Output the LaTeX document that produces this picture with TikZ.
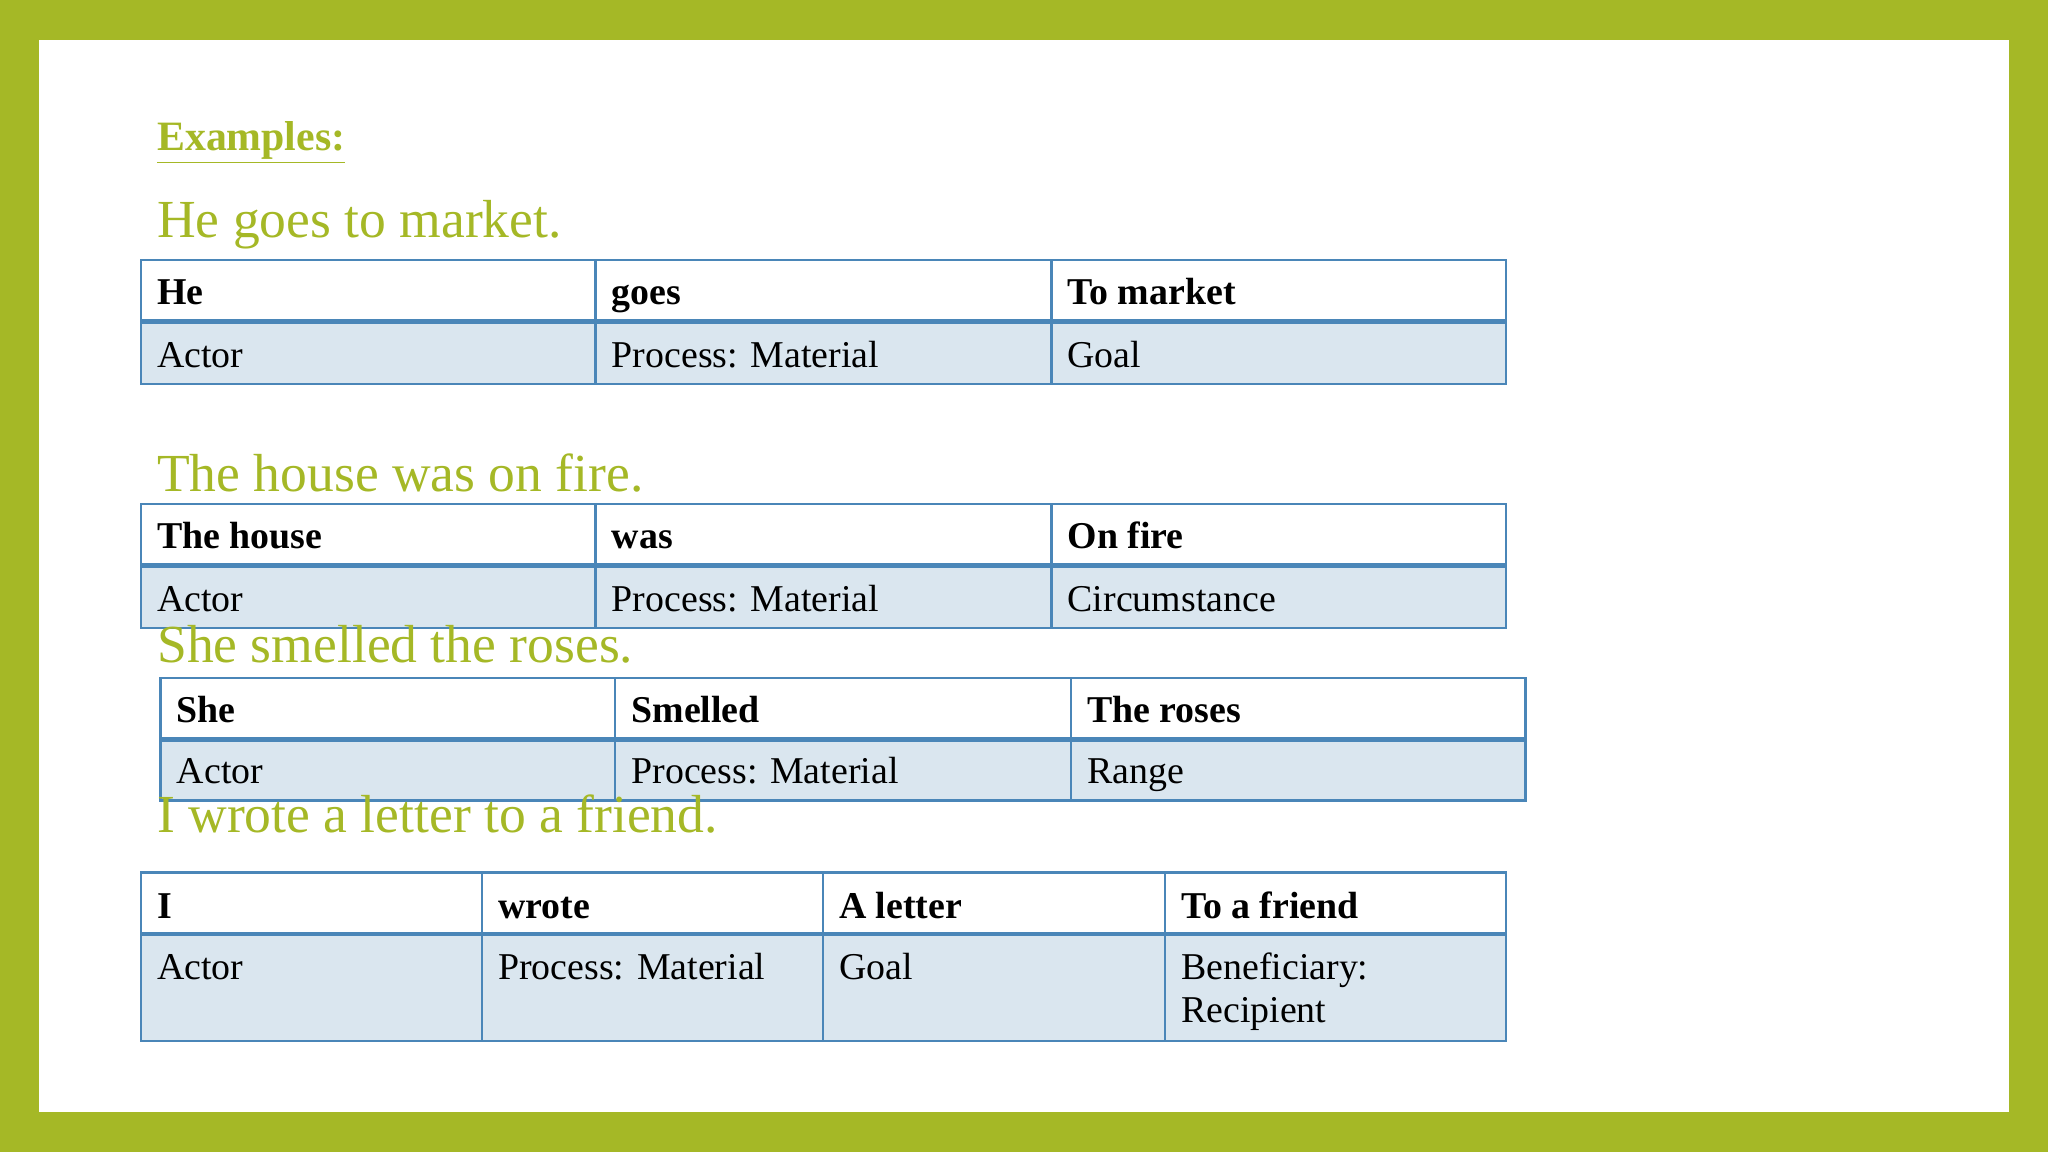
\documentclass[tikz,border=0pt]{standalone}
\usepackage{fontspec}
\setmainfont{Liberation Serif}
\definecolor{grn}{HTML}{A5B826}
\definecolor{tline}{HTML}{4A86B8}
\definecolor{tfill}{HTML}{DAE6EF}
\begin{document}
\begin{tikzpicture}[x=0.5pt,y=-0.5pt,
  title/.style={anchor=base west,inner sep=0,text=grn,font=\fontsize{20.5}{24}\selectfont},
  cell/.style={anchor=base west,inner sep=0,font=\fontsize{14.5}{17}\selectfont},
  head/.style={cell,font=\fontsize{14.5}{17}\selectfont\bfseries},
  tl/.style={draw=tline,line width=0.9pt}]
\useasboundingbox (0,0) rectangle (1568,882);
\fill[grn] (0,0) rectangle (1568,882);
\fill[white] (30,31) rectangle (1538,851);
% table macro
\newcommand\tblrow[7]{% x0 x1 ytop ymid ybot list-of-dividers
  \fill[tfill] (#1,#4) rectangle (#2,#5);
  \draw[tl] (#1,#3) rectangle (#2,#5);
  \draw[tl,line width=1.8pt] (#1,#4) -- (#2,#4);
  \foreach \d in {#6} {\draw[tl] (\d,#3) -- (\d,#5);}
}
\node[anchor=base west,inner sep=0,text=grn,font=\fontsize{16}{19}\selectfont\bfseries] (ex) at (120,115) {\underline{Examples:}};
\node[title] (t1) at (120,182) {He goes to market.};
\tblrow{108}{1153}{199}{246}{294}{456,805}{}
\node[head] (a1) at (120,233) {He};
\node[head] (b1) at (468,233) {goes};
\node[head] (c1) at (817,233) {To market};
\node[cell] (a1r) at (120,281) {Actor};
\node[cell] (b1r) at (468,281) {Process: Material};
\node[cell] (c1r) at (817,281) {Goal};
\node[title] (t2) at (120,376) {The house was on fire.};
\tblrow{108}{1153}{386}{433}{481}{456,805}{}
\node[head] (a2) at (120,420) {The house};
\node[head] (b2) at (468,420) {was};
\node[head] (c2) at (817,420) {On fire};
\node[cell] (a2r) at (120,468) {Actor};
\node[cell] (b2r) at (468,468) {Process: Material};
\node[cell] (c2r) at (817,468) {Circumstance};
\tblrow{123}{1168}{519}{566}{613}{471,820}{}
\node[title] (t3) at (120,507) {She smelled the roses.};
\node[head] (a3) at (135,553) {She};
\node[head] (b3) at (483,553) {Smelled};
\node[head] (c3) at (832,553) {The roses};
\node[cell] (a3r) at (135,600) {Actor};
\node[cell] (b3r) at (483,600) {Process: Material};
\node[cell] (c3r) at (832,600) {Range};
\node[title] (t4) at (120,637) {I wrote a letter to a friend.};
\tblrow{108}{1153}{668}{715}{797}{369,630,892}{}
\node[head] (a4) at (120,703) {I};
\node[head] (b4) at (381,703) {wrote};
\node[head] (c4) at (642,703) {A letter};
\node[head] (d4) at (904,703) {To a friend};
\node[cell] (a4r) at (120,750) {Actor};
\node[cell] (b4r) at (381,750) {Process: Material};
\node[cell] (c4r) at (642,750) {Goal};
\node[cell] (d4r) at (904,750) {Beneficiary:};
\node[cell] (d4s) at (904,783) {Recipient};
\end{tikzpicture}
\end{document}
